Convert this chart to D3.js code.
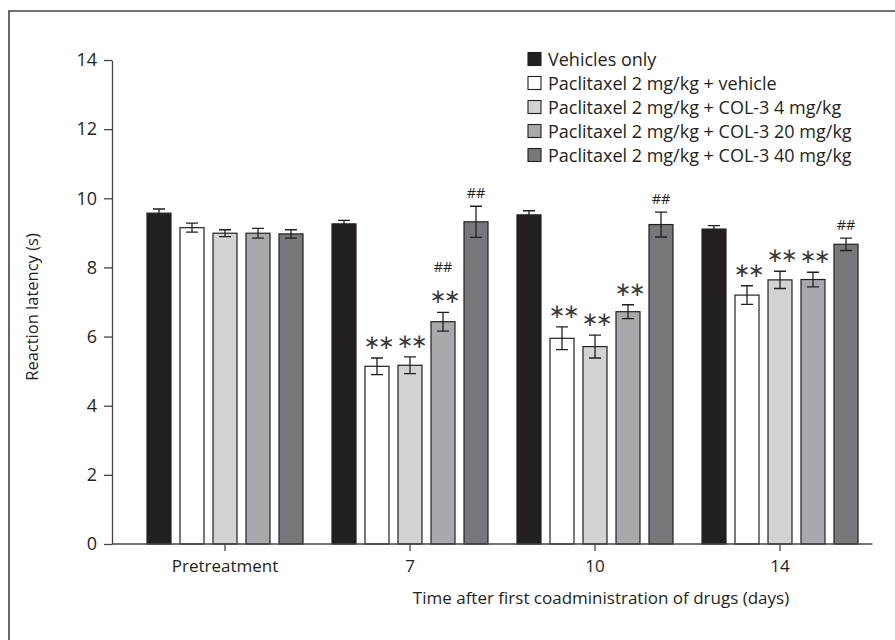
<!DOCTYPE html>
<html>
<head>
<meta charset="utf-8">
<script src="https://cdn.jsdelivr.net/npm/d3@7"></script>
<style>
  body { margin: 0; background: #fff; }
  svg { font-family: "Open Sans", "Noto Sans", sans-serif; }
</style>
</head>
<body>
<div id="chart"></div>
<script>
// data
const timePoints = ['Pretreatment', '7', '10', '14'];
const groups = ['Vehicles only', 'Paclitaxel 2 mg/kg + vehicle', 'Paclitaxel 2 mg/kg + COL-3 4 mg/kg',
                'Paclitaxel 2 mg/kg + COL-3 20 mg/kg', 'Paclitaxel 2 mg/kg + COL-3 40 mg/kg'];
// mean latency per group, one entry per time point
const vehicleMean = [9.57, 9.26, 9.52, 9.11];
const paclitaxelMean = [9.15, 5.14, 5.95, 7.20];
const col3LowMean = [8.99, 5.17, 5.71, 7.64];
const col3MidMean = [8.99, 6.43, 6.72, 7.65];
const col3HighMean = [8.97, 9.32, 9.24, 8.67];
// standard errors
const vehicleErr = [0.12, 0.10, 0.12, 0.10];
const paclitaxelErr = [0.13, 0.24, 0.33, 0.27];
const col3LowErr = [0.10, 0.24, 0.33, 0.25];
const col3MidErr = [0.14, 0.27, 0.20, 0.21];
const col3HighErr = [0.12, 0.45, 0.36, 0.18];
// significance marks: ** vs vehicle, ## vs paclitaxel
const starMarks = [[0,0,0,0,0],[0,1,1,1,0],[0,1,1,1,0],[0,1,1,1,0]];
const hashMarks = [[0,0,0,0,0],[0,0,0,1,1],[0,0,0,0,1],[0,0,0,0,1]];
const yTicks = [0, 2, 4, 6, 8, 10, 12, 14];

const means = [vehicleMean, paclitaxelMean, col3LowMean, col3MidMean, col3HighMean];
const errs = [vehicleErr, paclitaxelErr, col3LowErr, col3MidErr, col3HighErr];
const fills = ['#231f20', '#ffffff', '#d1d3d4', '#a7a9ac', '#77787b'];
const ink = '#231f20';

const rows = [];
timePoints.forEach((t, ti) => groups.forEach((g, gi) => {
    rows.push({t, g, ti, gi, v: means[gi][ti], e: errs[gi][ti],
               star: starMarks[ti][gi], hash: hashMarks[ti][gi]});
}));

const width = 895, height = 640;
const svg = d3.select('#chart').append('svg').attr('width', width).attr('height', height);

// frame around figure
svg.append('path').attr('d', `M9,${height}V11H${width}`)
    .attr('fill', 'none').attr('stroke', '#444').attr('stroke-width', 1.6);

const axisX = 112;
const x0 = d3.scaleBand().domain(timePoints).range([132.5, 872.5]).padding(0);
const x1 = d3.scaleBand().domain(groups).range([0, 156]).paddingInner(9 / 33).paddingOuter(0);
const y = d3.scaleLinear().domain([0, 14]).range([544, 60]);
const bx = d => x0(d.t) + x0.bandwidth() / 2 - 78 + x1(d.g);

// y axis
const yAxis = svg.append('g').attr('transform', `translate(${axisX},0)`)
    .call(d3.axisLeft(y).tickValues(yTicks).tickSize(8).tickPadding(7).tickSizeOuter(0));
yAxis.select('.domain').attr('stroke', '#444').attr('stroke-width', 1.3);
yAxis.selectAll('.tick line').attr('stroke', '#444').attr('stroke-width', 1.3);
yAxis.selectAll('.tick text').attr('font-size', 18).attr('fill', ink)
    .attr('font-family', '"Open Sans", sans-serif');

svg.append('text').attr('transform', `translate(38,${y(7) + 5}) rotate(-90)`)
    .attr('text-anchor', 'middle').attr('font-size', 16.5).attr('fill', ink)
    .text('Reaction latency (s)');

// bars
svg.append('g').selectAll('rect').data(rows).join('rect')
    .attr('x', bx).attr('width', x1.bandwidth())
    .attr('y', d => y(d.v)).attr('height', d => y(0) - y(d.v))
    .attr('fill', d => fills[d.gi]).attr('stroke', ink).attr('stroke-width', 1.2);

// error bars
svg.append('g').attr('stroke', ink).attr('stroke-width', 1.3).attr('fill', 'none')
    .selectAll('path').data(rows).join('path')
    .attr('d', d => {
        const cx = bx(d) + x1.bandwidth() / 2, top = y(d.v + d.e), bot = y(d.v - d.e);
        return `M${cx - 6},${top}H${cx + 6}M${cx},${top}V${bot}M${cx - 6},${bot}H${cx + 6}`;
    });

// x axis
const xAxis = svg.append('g').attr('transform', `translate(0,${y(0)})`)
    .call(d3.axisBottom(x0).tickSize(7).tickPadding(9).tickSizeOuter(0));
xAxis.select('.domain').remove();
xAxis.append('line').attr('x1', axisX).attr('x2', x0.range()[1])
    .attr('stroke', '#444').attr('stroke-width', 1.3);
xAxis.selectAll('.tick line').attr('stroke', '#444').attr('stroke-width', 1.3);
xAxis.selectAll('.tick text').attr('font-size', 17).attr('fill', ink)
    .attr('font-family', '"Open Sans", sans-serif');

svg.append('text').attr('x', 601).attr('y', 604).attr('text-anchor', 'middle')
    .attr('font-size', 17).attr('fill', ink)
    .text('Time after first coadministration of drugs (days)');

// significance marks
const marks = svg.append('g').attr('fill', ink).attr('text-anchor', 'middle');
marks.selectAll('text.star').data(rows.filter(d => d.star)).join('text').attr('class', 'star')
    .attr('x', d => bx(d) + x1.bandwidth() / 2 + 1)
    .attr('y', d => y(d.v + d.e) - 9)
    .attr('font-family', '"DejaVu Sans", sans-serif').attr('font-size', 20)
    .attr('letter-spacing', -2.5).attr('fill', '#3a3a3a')
    .text('\u2217\u2217');
marks.selectAll('text.hash').data(rows.filter(d => d.hash)).join('text').attr('class', 'hash')
    .attr('x', d => bx(d) + x1.bandwidth() / 2)
    .attr('y', d => y(d.v + d.e) - (d.star ? 40 : 8))
    .attr('font-size', 14.5).text('##');

// legend
const legend = svg.append('g').selectAll('g').data(groups).join('g')
    .attr('transform', (d, i) => `translate(528,${59 + i * 24})`);
legend.append('rect').attr('x', 0).attr('y', -6.5).attr('width', 13).attr('height', 13)
    .attr('fill', (d, i) => fills[i]).attr('stroke', ink).attr('stroke-width', 1.1);
legend.append('text').attr('x', 20).attr('y', 6.5).attr('font-size', 18).attr('fill', ink)
    .text(d => d);
</script>
</body>
</html>
